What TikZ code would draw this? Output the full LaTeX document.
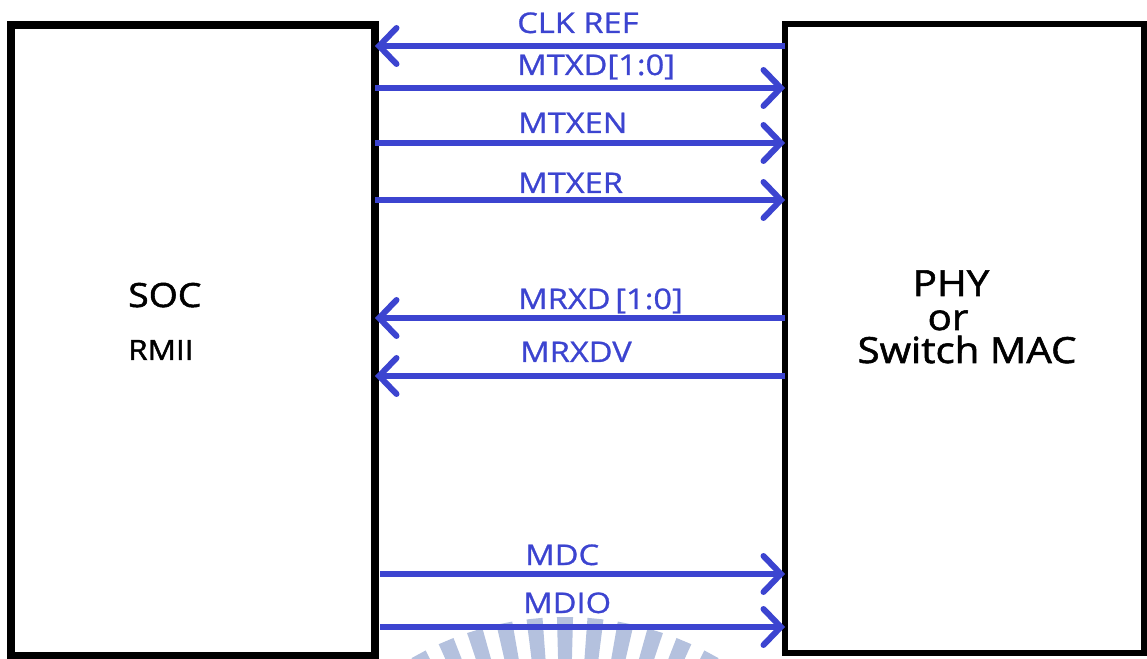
\documentclass[tikz,border=0pt]{standalone}
\usepackage{fontspec}
\setmainfont[FakeStretch=1.12,FakeBold=1.6]{Open Sans}
\newfontfamily\lblfont[FakeStretch=1.15,FakeBold=0.9]{Open Sans}
\usetikzlibrary{arrows.meta}
\definecolor{sigblue}{RGB}{60,68,208}
\definecolor{wm}{RGB}{180,193,222}
\begin{document}
\begin{tikzpicture}[x=0.75pt,y=-0.75pt,
  box/.style={draw=black, inner sep=0pt, outer sep=0pt},
  sig/.style={draw=sigblue, line width=4.5pt, -{Straight Barb[length=13pt,width=27pt,line cap=round]}},
  lbl/.style={text=sigblue, font=\lblfont\fontsize{21.3}{24}\selectfont, anchor=base west, inner sep=0pt},
  blk/.style={text=black, inner sep=0pt}]
\useasboundingbox (0,0) rectangle (1147,659);
% watermark seal (partial)
\begin{scope}
  \clip (0,0) rectangle (1147,659);
  \begin{scope}[shift={(565,924)}]
    \foreach \k in {-6,...,6}{
      \pgfmathsetmacro{\aa}{-90+\k*5.7-1.5}
      \pgfmathsetmacro{\ab}{-90+\k*5.7+1.5}
      \fill[wm] (\aa:230) -- (\aa:307) -- (\ab:307) -- (\ab:230) -- cycle;
    }
  \end{scope}
\end{scope}
% blocks
\node[box, line width=6pt, minimum width=273pt, minimum height=473.25pt] (soc) at (193,340.5) {};
\node[box, line width=5pt, minimum width=269.25pt, minimum height=471.75pt] (phy) at (964.5,338.5) {};
\node[blk, anchor=base west, font=\fontsize{25}{30}\selectfont] (soct) at (128,307) {SOC};
\node[blk, anchor=base west, font=\fontsize{21}{25}\selectfont] (rmii) at (128,360) {RMII};
\node[blk, anchor=base, font=\fontsize{27}{30}\selectfont] (phy1) at (951,296) {PHY};
\node[blk, anchor=base, font=\fontsize{27}{30}\selectfont] (phy2) at (948,330) {or};
\node[blk, anchor=base, font=\fontsize{27}{30}\selectfont] (phy3) at (967,363) {Switch MAC};
% signals
\draw[sig] (phy.west |- 0,46) -- (soc.east |- 0,46);
\draw[sig] (soc.east |- 0,88) -- (phy.west |- 0,88);
\draw[sig] (soc.east |- 0,143) -- (phy.west |- 0,143);
\draw[sig] (soc.east |- 0,200) -- (phy.west |- 0,200);
\draw[sig] (phy.west |- 0,318) -- (soc.east |- 0,318);
\draw[sig] (phy.west |- 0,376) -- (soc.east |- 0,376);
\draw[sig] ([xshift=3.75pt]soc.east |- 0,574) -- (phy.west |- 0,574);
\draw[sig] ([xshift=3.75pt]soc.east |- 0,627) -- (phy.west |- 0,627);
% labels
\node[lbl] (l1) at (517,33) {CLK REF};
\node[lbl] (l2) at (517,75) {MTXD[1:0]};
\node[lbl] (l3) at (518,133) {MTXEN};
\node[lbl] (l4) at (518,193) {MTXER};
\node[lbl] (l5) at (518,309) {MRXD\,[1:0]};
\node[lbl] (l6) at (520,362) {MRXDV};
\node[lbl] (l7) at (525,565) {MDC};
\node[lbl] (l8) at (523,613) {MDIO};
\end{tikzpicture}
\end{document}
